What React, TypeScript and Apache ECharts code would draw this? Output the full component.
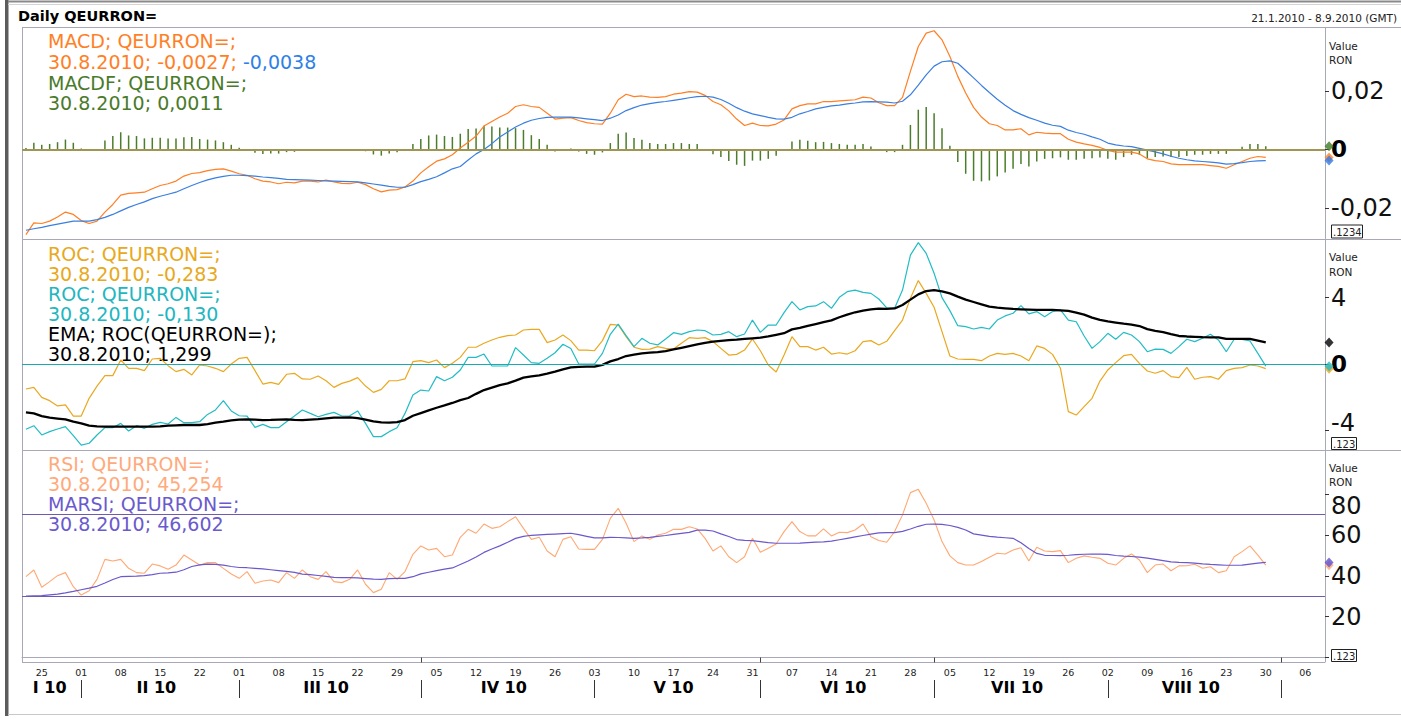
import React, { useEffect, useRef } from "react";
import * as echarts from "echarts";

const START_DATE = "2010-01-21";
const END_DATE = "2010-09-08";
const dates: string[] = [];
{
  const d = new Date(START_DATE + "T00:00:00Z");
  const end = new Date(END_DATE + "T00:00:00Z");
  while (d <= end) {
    const w = d.getUTCDay();
    if (w !== 0 && w !== 6) dates.push(d.toISOString().slice(0, 10));
    d.setUTCDate(d.getUTCDate() + 1);
  }
}

const macd = [
  -0.0291, -0.0251, -0.0253, -0.0245, -0.0231, -0.0214, -0.0222, -0.0243, -0.0253, -0.0245,
  -0.0214, -0.0188, -0.0156, -0.015, -0.0148, -0.0146, -0.0134, -0.0123, -0.0117, -0.0108,
  -0.0091, -0.0082, -0.0079, -0.0072, -0.0068, -0.0066, -0.0074, -0.0083, -0.0088, -0.01,
  -0.0108, -0.0111, -0.0117, -0.0112, -0.0114, -0.0108, -0.0108, -0.0111, -0.0105, -0.0111,
  -0.0116, -0.0117, -0.0112, -0.012, -0.0134, -0.0145, -0.0139, -0.0137, -0.0128, -0.0108,
  -0.008, -0.0059, -0.004, -0.0032, -0.0018, 0.0005, 0.0025, 0.0046, 0.008, 0.0096,
  0.0111, 0.0124, 0.0147, 0.0153, 0.0147, 0.0144, 0.0124, 0.0104, 0.0107, 0.0109,
  0.0099, 0.0092, 0.0088, 0.0087, 0.0124, 0.017, 0.0189, 0.0181, 0.0183, 0.0179,
  0.0178, 0.0181, 0.0189, 0.0193, 0.0198, 0.0196, 0.0185, 0.0164, 0.0153, 0.0132,
  0.0104, 0.0082, 0.009, 0.0082, 0.0081, 0.0087, 0.0101, 0.0139, 0.015, 0.0156,
  0.0156, 0.0164, 0.0164, 0.0166, 0.0168, 0.017, 0.0179, 0.0176, 0.016, 0.015,
  0.015, 0.0178, 0.0267, 0.0352, 0.0398, 0.0406, 0.0375, 0.0318, 0.025, 0.0193,
  0.0144, 0.0111, 0.0088, 0.0082, 0.0067, 0.0067, 0.0071, 0.005, 0.0059, 0.0056,
  0.0054, 0.0054, 0.0035, 0.0025, 0.0019, 0.0014, 0.0007, -0.0003, -0.0009, -0.0009,
  -0.0009, -0.0015, -0.0032, -0.0038, -0.0041, -0.0049, -0.0052, -0.0052, -0.0052, -0.0052,
  -0.0055, -0.0058, -0.0064, -0.0052, -0.0041, -0.003, -0.0024, -0.0027,
];

const macdSignal = [
  -0.0276, -0.0271, -0.0266, -0.026, -0.0255, -0.025, -0.0245, -0.0245, -0.0245, -0.024,
  -0.0232, -0.0222, -0.021, -0.0198, -0.0188, -0.0179, -0.0168, -0.016, -0.0153, -0.0146,
  -0.0134, -0.0123, -0.0113, -0.0104, -0.0097, -0.0092, -0.0088, -0.0088, -0.0089, -0.0091,
  -0.0094, -0.0096, -0.0099, -0.0102, -0.0103, -0.0104, -0.0105, -0.0106, -0.0107, -0.0108,
  -0.0109, -0.011, -0.0111, -0.0114, -0.0118, -0.0122, -0.0126, -0.0129, -0.0129, -0.012,
  -0.011, -0.0102, -0.0093, -0.008, -0.0066, -0.0058, -0.0036, -0.0015, 0.0, 0.002,
  0.0043, 0.006, 0.0077, 0.009, 0.01, 0.0106, 0.011, 0.0111, 0.0111, 0.0111,
  0.0108, 0.0105, 0.0102, 0.0099, 0.0107, 0.0118, 0.0133, 0.0143, 0.0152, 0.0157,
  0.0161, 0.0164, 0.0168, 0.0172, 0.0177, 0.0181, 0.0182, 0.0179, 0.0171, 0.0158,
  0.0143, 0.0131, 0.0122, 0.0116, 0.011, 0.0105, 0.0104, 0.011, 0.0122, 0.013,
  0.0139, 0.0144, 0.0149, 0.0152, 0.0156, 0.0159, 0.0163, 0.0164, 0.0163, 0.0162,
  0.0159, 0.0165, 0.0187, 0.022, 0.0255, 0.0285, 0.03, 0.0303, 0.0295, 0.027,
  0.0245, 0.0219, 0.0195, 0.0172, 0.0151, 0.0133, 0.012, 0.0109, 0.01, 0.009,
  0.0083, 0.0079, 0.0066, 0.0058, 0.0052, 0.0043, 0.0035, 0.0022, 0.0016, 0.0012,
  0.001, 0.0004, -0.0002, -0.0008, -0.0015, -0.0023, -0.003, -0.0035, -0.0039, -0.0041,
  -0.0043, -0.0046, -0.005, -0.0048, -0.0045, -0.0041, -0.0039, -0.0038,
];

const macdf = [
  0.0005, 0.0023, 0.0016, 0.0019, 0.0025, 0.0034, 0.0023, 0.0003, -0.0003, 0.0002,
  0.0031, 0.0046, 0.0059, 0.0048, 0.0046, 0.0038, 0.004, 0.004, 0.0038, 0.0038,
  0.0042, 0.0043, 0.0036, 0.0034, 0.0031, 0.0025, 0.0016, 0.0006, 0.0001, -0.0011,
  -0.0015, -0.0014, -0.0014, -0.0009, -0.0008, -0.0002, -0.0002, -0.0002, -0.0001, -0.0003,
  -0.0002, -0.0005, 0.0, -0.0006, -0.0017, -0.0021, -0.0014, -0.0009, 0.0, 0.0019,
  0.0036, 0.0048, 0.0051, 0.0046, 0.0043, 0.0054, 0.007, 0.0072, 0.0081, 0.0079,
  0.0075, 0.0075, 0.0073, 0.0067, 0.0049, 0.0036, 0.0016, -0.0007, -0.0005, 0.0003,
  -0.0007, -0.0015, -0.0018, -0.001, 0.0022, 0.0054, 0.0058, 0.0039, 0.0033, 0.0022,
  0.0019, 0.0019, 0.0022, 0.0022, 0.0019, 0.0019, 0.0002, -0.0016, -0.0026, -0.0039,
  -0.0052, -0.0056, -0.0038, -0.0038, -0.0032, -0.0021, 0.0, 0.0027, 0.0033, 0.003,
  0.0025, 0.0026, 0.0022, 0.0019, 0.0016, 0.0016, 0.0019, 0.001, 0.0001, -0.0009,
  -0.0009, 0.0016, 0.0084, 0.0136, 0.0145, 0.0124, 0.0073, 0.0013, -0.0043, -0.0083,
  -0.0107, -0.0109, -0.0106, -0.0092, -0.0079, -0.0066, -0.005, -0.0058, -0.0041, -0.0032,
  -0.003, -0.0027, -0.0035, -0.0035, -0.0032, -0.003, -0.0027, -0.0032, -0.0035, -0.0026,
  -0.0018, -0.0018, -0.003, -0.0026, -0.0024, -0.0026, -0.0026, -0.0022, -0.0018, -0.0018,
  -0.0015, -0.0015, -0.0015, -0.0003, 0.0009, 0.0019, 0.0019, 0.0011,
];

const rocA = [
  -1.51, -1.41, -2.01, -2.21, -2.53, -2.47, -3.14, -3.14, -2.07, -1.33,
  -0.7, -0.7, 0.24, -0.26, -0.26, -0.4, 0.3, 0.34, -0.1, -0.46,
  -0.32, -0.66, -0.06, -0.12, -0.26, -0.46, 0.0, 0.34, 0.4, -0.4,
  -1.21, -1.11, -1.23, -0.62, -0.56, -0.9, -0.92, -0.72, -1.01, -1.41,
  -1.17, -1.03, -0.82, -1.33, -1.71, -1.53, -1.01, -1.01, -0.9, 0.14,
  0.2, 0.08, 0.24, -0.22, 0.04, 0.4, 1.01, 1.01, 1.25, 1.45,
  1.61, 1.71, 1.75, 2.05, 2.09, 2.09, 1.29, 1.45, 1.75, 1.41,
  0.84, 0.84, 0.8, 1.41, 2.39, 2.35, 1.65, 1.01, 0.88, 0.9,
  1.05, 0.94, 0.9, 1.25, 1.59, 1.55, 1.59, 1.35, 0.94, 0.54,
  0.58, 0.84, 1.51, 0.8, -0.06, -0.48, 0.54, 1.65, 1.05, 1.05,
  0.84, 1.01, 0.6, 0.68, 0.6, 0.8, 1.35, 1.41, 1.15, 1.37,
  2.01, 2.65, 3.96, 5.03, 4.26, 3.42, 1.95, 0.48, 0.3, 0.28,
  0.28, 0.2, 0.48, 0.64, 0.58, 0.64, 0.48, 0.2, 1.09, 0.94,
  0.58, -0.26, -2.87, -3.08, -2.57, -2.07, -1.03, -0.36, 0.08, 0.5,
  0.58, 0.04, -0.42, -0.56, -0.4, -0.76, -0.82, -0.2, -0.92, -0.8,
  -0.76, -0.92, -0.4, -0.26, -0.22, -0.06, -0.12, -0.28,
];

const rocB = [
  -3.94, -3.72, -4.28, -4.08, -3.92, -3.78, -4.32, -4.89, -4.78, -4.28,
  -3.84, -3.84, -3.58, -4.04, -3.72, -3.88, -3.64, -3.52, -3.62, -3.22,
  -3.54, -3.54, -3.48, -3.04, -2.77, -2.21, -2.83, -3.12, -3.14, -3.82,
  -3.64, -3.84, -3.84, -3.48, -3.14, -2.77, -2.98, -3.18, -3.04, -2.92,
  -3.14, -3.12, -2.83, -3.58, -4.38, -4.38, -4.08, -3.84, -2.98, -1.87,
  -1.57, -1.63, -0.76, -1.01, -0.8, -0.36, 0.4, 0.4, 0.6, -0.12,
  -0.12, -0.12, 0.99, 0.54, 0.08, 0.04, 0.34, 0.68, 1.19, 0.94,
  0.0, 0.0, 0.0, 0.64, 1.79, 2.41, 1.71, 1.05, 1.55, 1.25,
  1.15, 1.51, 1.89, 1.79, 1.95, 2.05, 2.01, 1.75, 1.79, 1.95,
  1.65, 1.81, 2.65, 1.91, 2.35, 2.35, 3.1, 3.76, 3.26, 3.46,
  3.5, 3.76, 3.36, 4.02, 4.36, 4.46, 4.32, 4.26, 3.92, 3.38,
  3.36, 4.46, 6.57, 7.32, 6.67, 5.47, 4.0, 3.22, 2.31, 2.25,
  2.11, 2.21, 2.11, 2.65, 2.9, 3.06, 3.52, 3.02, 3.16, 2.85,
  3.16, 3.26, 2.65, 2.55, 1.69, 0.94, 1.35, 1.85, 1.49, 1.91,
  1.75, 1.35, 0.74, 0.9, 0.88, 0.64, 1.05, 1.49, 1.35, 1.55,
  1.79, 1.45, 0.74, 1.49, 1.49, 1.39, 0.64, -0.13,
];

const rocEma = [
  -2.92, -2.98, -3.14, -3.24, -3.29, -3.34, -3.48, -3.58, -3.72, -3.76,
  -3.78, -3.78, -3.78, -3.78, -3.78, -3.78, -3.78, -3.76, -3.72, -3.7,
  -3.68, -3.68, -3.68, -3.62, -3.54, -3.48, -3.4, -3.36, -3.34, -3.35,
  -3.38, -3.37, -3.35, -3.34, -3.37, -3.38, -3.35, -3.32, -3.28, -3.24,
  -3.23, -3.22, -3.26, -3.35, -3.46, -3.52, -3.54, -3.5, -3.38, -3.12,
  -2.96, -2.8, -2.64, -2.5, -2.35, -2.18, -2.05, -1.8, -1.57, -1.42,
  -1.27, -1.17, -1.0, -0.82, -0.74, -0.68, -0.58, -0.46, -0.32, -0.2,
  -0.17, -0.16, -0.16, -0.05, 0.16, 0.3, 0.48, 0.56, 0.64, 0.68,
  0.72, 0.78, 0.88, 0.98, 1.08, 1.18, 1.28, 1.35, 1.4, 1.44,
  1.47, 1.51, 1.55, 1.59, 1.66, 1.76, 1.86, 2.09, 2.18, 2.3,
  2.41, 2.52, 2.63, 2.82, 2.98, 3.12, 3.22, 3.3, 3.34, 3.33,
  3.35, 3.56, 3.88, 4.2, 4.4, 4.46, 4.38, 4.26, 4.06, 3.88,
  3.74, 3.6, 3.46, 3.4, 3.36, 3.32, 3.3, 3.28, 3.26, 3.26,
  3.26, 3.24, 3.2, 3.1, 2.98, 2.8, 2.66, 2.57, 2.5, 2.43,
  2.38, 2.29, 2.1, 2.0, 1.92, 1.8, 1.69, 1.66, 1.64, 1.62,
  1.61, 1.61, 1.51, 1.51, 1.51, 1.51, 1.41, 1.3,
];

const rsi = [
  39.6, 42.9, 34.4, 37.2, 40.1, 41.6, 34.7, 30.6, 32.7, 38.3,
  48.1, 47.3, 48.1, 43.7, 41.6, 41.3, 45.8, 44.9, 43.2, 45.3,
  50.2, 47.8, 45.3, 46.5, 46.5, 43.7, 40.9, 38.8, 42.1, 36.4,
  37.5, 38.0, 36.7, 41.6, 38.8, 42.9, 39.6, 38.3, 42.1, 37.2,
  36.7, 38.3, 42.9, 35.9, 31.8, 33.4, 41.6, 38.3, 42.1, 50.6,
  54.7, 52.7, 53.5, 49.4, 50.2, 58.9, 62.8, 60.9, 65.4, 63.3,
  64.1, 66.6, 69.0, 63.3, 57.9, 58.9, 52.2, 49.4, 57.9, 59.2,
  53.2, 53.0, 53.0, 57.9, 68.2, 73.1, 65.8, 56.8, 59.6, 57.9,
  60.0, 60.9, 62.8, 62.8, 64.1, 63.0, 58.4, 52.2, 54.7, 49.4,
  46.5, 49.4, 58.4, 51.6, 53.5, 55.6, 61.7, 66.6, 61.7, 59.6,
  59.6, 63.0, 59.6, 61.4, 61.2, 62.5, 65.4, 59.2, 57.3, 56.5,
  61.7, 69.9, 80.8, 82.4, 75.6, 67.4, 56.8, 49.8, 46.5, 45.3,
  45.3, 47.0, 49.1, 51.1, 50.7, 52.7, 53.8, 47.3, 54.0, 52.2,
  51.9, 52.4, 46.5, 48.6, 49.8, 49.1, 48.6, 46.2, 45.3, 48.6,
  50.7, 47.8, 41.6, 45.3, 45.8, 42.5, 44.9, 45.0, 45.7, 43.7,
  44.5, 41.6, 42.5, 49.4, 51.9, 54.7, 50.2, 45.25,
];

const marsi = [
  30.1, 30.2, 30.3, 30.7, 31.1, 31.7, 32.4, 33.2, 34.0, 34.9,
  36.5, 38.2, 39.6, 39.8, 39.9, 40.1, 40.6, 41.3, 41.5, 41.8,
  43.0, 44.6, 45.4, 45.8, 45.6, 45.3, 44.6, 44.1, 44.0, 43.7,
  43.4, 43.0, 42.6, 42.2, 41.7, 40.9, 40.6, 40.2, 39.8, 39.3,
  39.1, 39.1, 39.0, 38.7, 38.4, 38.3, 38.7, 38.8, 38.8, 39.6,
  41.0, 41.8, 42.6, 43.3, 43.9, 45.6, 47.3, 49.3, 51.5, 53.2,
  54.7, 56.5, 58.4, 59.4, 59.9, 60.1, 60.3, 60.5, 60.7, 60.9,
  60.2, 59.4, 58.6, 58.6, 58.9, 58.8, 58.6, 58.4, 58.6, 58.9,
  59.4, 59.8, 60.3, 60.8, 61.3, 62.4, 62.4, 62.0, 60.6, 59.3,
  57.8, 57.4, 57.3, 56.8, 56.3, 56.0, 56.0, 56.0, 56.1, 56.3,
  56.5, 56.7, 57.0, 57.7, 58.4, 59.1, 59.8, 60.5, 61.1, 61.2,
  61.2, 61.8, 63.0, 64.3, 65.3, 65.4, 65.2, 64.7, 63.8, 62.5,
  60.6, 60.0, 59.4, 59.0, 58.7, 58.4, 56.2, 53.4, 51.0, 50.1,
  50.0, 49.9, 50.1, 50.4, 50.6, 50.7, 50.7, 50.5, 50.0, 49.7,
  49.5, 49.2, 48.7, 48.1, 47.5, 46.9, 46.6, 46.5, 46.3, 45.9,
  45.6, 45.4, 45.2, 45.2, 45.3, 45.8, 46.3, 46.6,
];

const macdTicks = [-0.02, 0, 0.02];
const rocTicks = [-4, 0, 4];
const rsiTicks = [20, 40, 60, 80];
const rsiTickMarks = [0, 20, 40, 60, 80];
const rsiLevels = [70, 30];
const romanMonths = ["I", "II", "III", "IV", "V", "VI", "VII", "VIII", "IX", "X", "XI", "XII"];

const FONT = "DejaVu Sans";

// month structure derived from the category dates
const monthStarts: number[] = [];
const monthMid = new Map<number, { label: string; half: boolean }>();
{
  let s = 0;
  for (let i = 1; i <= dates.length; i++) {
    if (i === dates.length || dates[i].slice(5, 7) !== dates[i - 1].slice(5, 7)) {
      const e = i - 1;
      const len = e - s + 1;
      if (len >= 7) {
        const mid = Math.floor((s + e) / 2);
        const m = parseInt(dates[s].slice(5, 7), 10) - 1;
        monthMid.set(mid, { label: romanMonths[m] + " " + dates[s].slice(2, 4), half: len % 2 === 0 });
      }
      if (i < dates.length) monthStarts.push(i);
      s = i;
    }
  }
}
const monthStartSet = new Set(monthStarts);
const isMonday = (v: string) => new Date(v + "T00:00:00Z").getUTCDay() === 1;
const nonMondayMonthStarts = new Set(monthStarts.filter((i) => !isMonday(dates[i])));
const LAST = dates.length - 1;

function fmtComma(v: number, digits: number) {
  return v.toFixed(digits).replace(".", ",");
}

export default function App() {
  const ref = useRef<HTMLDivElement>(null);
  useEffect(() => {
    document.body.style.margin = "0";
    const chart = echarts.init(ref.current!, null, { renderer: "svg" });
    const axisGray = "#a8a8b8";
    const grids = [
      { left: 22, right: 76, top: 27.5, height: 211 },
      { left: 22, right: 76, top: 239.5, height: 210.5 },
      { left: 22, right: 76, top: 451, height: 211 },
    ];
    const hiddenX = (g: number) => ({
      type: "category",
      gridIndex: g,
      data: dates,
      boundaryGap: true,
      axisLine: { show: false },
      axisTick: { show: false },
      axisLabel: { show: false },
      splitLine: { show: false },
    });
    const yBase = (g: number, min: number, max: number, ticks: number[], labels: number[], fmt: (v: number) => string) => ({
      type: "value",
      gridIndex: g,
      position: "right",
      min,
      max,
      splitLine: { show: false },
      axisLine: { show: true, lineStyle: { color: axisGray, width: 1 } },
      axisTick: { show: true, customValues: ticks, length: 4, lineStyle: { color: "#333" } },
      axisLabel: {
        customValues: labels,
        formatter: fmt,
        margin: 6,
        fontFamily: FONT,
        fontSize: 24,
        color: "#111",
        align: "left",
        rich: {
          b: { fontFamily: FONT, fontSize: 23, fontWeight: "bold", color: "#000" },
          dn: { fontFamily: FONT, fontSize: 24, color: "#111", padding: [24, 0, 0, 0] },
          up: { fontFamily: FONT, fontSize: 24, color: "#111", padding: [0, 0, 14, 0] },
        },
      },
    });
    const diamond = (x: number, y: number, val: number, color: string, z: number) => ({
      type: "scatter",
      xAxisIndex: x,
      yAxisIndex: y,
      data: [[LAST, val]],
      symbol: "diamond",
      symbolSize: [9, 10],
      symbolOffset: [8, 0],
      itemStyle: { color },
      clip: false,
      silent: true,
      z,
    });
    const lineS = (x: number, y: number, data: number[], color: string, width: number, extra: any = {}) => ({
      type: "line",
      xAxisIndex: x,
      yAxisIndex: y,
      data,
      showSymbol: false,
      symbol: "none",
      lineStyle: { color, width },
      itemStyle: { color },
      silent: true,
      ...extra,
    });
    const legend = (y: number, text: string, fill: string) => ({
      type: "text",
      x: 48,
      y,
      silent: true,
      style: { text, fill, font: `19px "${FONT}"`, textVerticalAlign: "middle", textAlign: "left" },
    });
    const small = (x: number, y: number, text: string, align = "left") => ({
      type: "text",
      x,
      y,
      silent: true,
      style: { text, fill: "#222", font: `10.5px "${FONT}"`, textVerticalAlign: "middle", textAlign: align },
    });
    const box = (x: number, y: number, w: number, h: number, text: string) => [
      { type: "rect", silent: true, shape: { x: x + 0.5, y: y + 0.5, width: w, height: h }, style: { fill: "#fff", stroke: "#222", lineWidth: 1 } },
      { type: "text", silent: true, x: x + 2, y: y + h / 2 + 1, style: { text, fill: "#222", font: `10px "${FONT}"`, textVerticalAlign: "middle" } },
    ];
    const hline = (x1: number, x2: number, y: number, stroke: string, w = 1) => ({
      type: "line",
      silent: true,
      shape: { x1, y1: y, x2, y2: y },
      style: { stroke, lineWidth: w },
    });

    const option: any = {
      animation: false,
      backgroundColor: "#ffffff",
      grid: grids,
      xAxis: [
        hiddenX(0),
        hiddenX(1),
        {
          type: "category",
          gridIndex: 2,
          data: dates,
          boundaryGap: true,
          axisLine: { show: true, lineStyle: { color: axisGray } },
          axisTick: {
            show: true,
            alignWithLabel: true,
            interval: (i: number) => nonMondayMonthStarts.has(i),
            length: 5,
            lineStyle: { color: "#444" },
          },
          axisLabel: {
            interval: (_i: number, v: string) => isMonday(v),
            formatter: (v: string) => v.slice(8, 10),
            fontFamily: FONT,
            fontSize: 9.5,
            color: "#222",
            margin: 5,
          },
          splitLine: { show: false },
        },
        {
          type: "category",
          gridIndex: 2,
          data: dates,
          boundaryGap: true,
          position: "bottom",
          offset: 18,
          axisLine: { show: false },
          axisTick: {
            show: true,
            alignWithLabel: true,
            interval: (i: number) => monthStartSet.has(i),
            length: 18,
            lineStyle: { color: "#333", width: 1 },
          },
          axisLabel: {
            interval: (i: number) => monthMid.has(i),
            formatter: (_v: string, i: number) => {
              const m = monthMid.get(i);
              if (!m) return "";
              return m.half ? `{h|${m.label}}` : `{n|${m.label}}`;
            },
            margin: -1,
            rich: {
              n: { fontFamily: FONT, fontSize: 16, fontWeight: "bold", color: "#000" },
              h: { fontFamily: FONT, fontSize: 16, fontWeight: "bold", color: "#000", padding: [0, 0, 0, 8] },
            },
          },
          splitLine: { show: false },
        },
      ],
      yAxis: [
        yBase(0, -0.03043, 0.04171, macdTicks, macdTicks, (v: number) => (v === 0 ? "{b|0}" : fmtComma(v, 2))),
        yBase(1, -5.187, 7.509, rocTicks, rocTicks, (v: number) => (v === 0 ? "{b|0}" : v < 0 ? `{up|${v}}` : String(v))),
        yBase(2, -2.2, 101.2, rsiTickMarks, rsiTicks, (v: number) => (v === 80 ? `{dn|${v}}` : String(v))),
      ],
      series: [
        {
          type: "bar",
          xAxisIndex: 0,
          yAxisIndex: 0,
          data: macdf,
          barWidth: 1.5,
          itemStyle: { color: "#4c7d2c" },
          silent: true,
          markLine: {
            silent: true,
            symbol: ["none", "none"],
            label: { show: false },
            lineStyle: { color: "#9e9652", width: 2, type: "solid" },
            data: [{ yAxis: 0 }],
          },
        },
        lineS(0, 0, macd, "#ff7f24", 1.2),
        lineS(0, 0, macdSignal, "#3a7fe0", 1.2),
        diamond(0, 0, macdf[macdf.length - 1], "#3f7a24", 10),
        diamond(0, 0, macd[macd.length - 1], "#ff7f24", 11),
        diamond(0, 0, macdSignal[macdSignal.length - 1], "#2f78e6", 12),

        lineS(1, 1, rocA, "#eaa820", 1.2, {
          markLine: {
            silent: true,
            symbol: ["none", "none"],
            label: { show: false },
            lineStyle: { color: "#19abb0", width: 1.2, type: "solid" },
            data: [{ yAxis: 0 }],
          },
        }),
        lineS(1, 1, rocB, "#22bcc4", 1.2),
        lineS(1, 1, rocEma, "#000000", 2.3),
        diamond(1, 1, rocEma[rocEma.length - 1], "#000000", 10),
        diamond(1, 1, rocA[rocA.length - 1], "#eaa820", 11),
        diamond(1, 1, rocB[rocB.length - 1], "#22bcc4", 12),

        lineS(2, 2, rsi, "#ffa873", 1.1),
        lineS(2, 2, marsi, "#6a58cc", 1.2, {
          markLine: {
            silent: true,
            symbol: ["none", "none"],
            label: { show: false },
            lineStyle: { color: "#6e5ab0", width: 1.2, type: "solid" },
            data: rsiLevels.map((v) => ({ yAxis: v })),
          },
        }),
        diamond(2, 2, rsi[rsi.length - 1], "#ffa873", 10),
        diamond(2, 2, marsi[marsi.length - 1], "#5f50d0", 11),
      ],
      graphic: [
        { type: "rect", silent: true, shape: { x: 5, y: 0, width: 3.5, height: 716 }, style: { fill: "#5c5c5c" } },
        hline(8, 1401, 1.5, "#8a8a8a", 2),
        hline(8, 1401, 4.5, "#d4d4d4", 1),
        hline(8, 1401, 714.5, "#c8c8c8", 1),
        hline(22, 1401, 27.5, axisGray),
        hline(22, 1401, 239.5, axisGray),
        hline(22, 1401, 450.5, axisGray),
        hline(22, 1325, 662.5, axisGray),
        { type: "line", silent: true, shape: { x1: 22.5, y1: 27.5, x2: 22.5, y2: 662.5 }, style: { stroke: axisGray, lineWidth: 1 } },
        {
          type: "text",
          x: 18,
          y: 15.5,
          silent: true,
          style: { text: "Daily QEURRON=", fill: "#000", font: `bold 14.5px "${FONT}"`, textVerticalAlign: "middle" },
        },
        small(1397, 17.5, "21.1.2010 - 8.9.2010 (GMT)", "right"),
        legend(40.5, "MACD; QEURRON=;", "#ff7f27"),
        {
          type: "text",
          x: 48,
          y: 61.5,
          silent: true,
          style: {
            text: "{o|30.8.2010; -0,0027; }{b|-0,0038}",
            font: `19px "${FONT}"`,
            textVerticalAlign: "middle",
            rich: {
              o: { fill: "#ff7f27", fontFamily: FONT, fontSize: 19 },
              b: { fill: "#2f7fe8", fontFamily: FONT, fontSize: 19 },
            },
          },
        },
        legend(82.5, "MACDF; QEURRON=;", "#4a7a2a"),
        legend(102.5, "30.8.2010; 0,0011", "#4a7a2a"),
        legend(254, "ROC; QEURRON=;", "#e8a820"),
        legend(274, "30.8.2010; -0,283", "#e8a820"),
        legend(294, "ROC; QEURRON=;", "#22b6c0"),
        legend(314, "30.8.2010; -0,130", "#22b6c0"),
        legend(334, "EMA; ROC(QEURRON=);", "#000000"),
        legend(354, "30.8.2010; 1,299", "#000000"),
        legend(464, "RSI; QEURRON=;", "#ffaa7c"),
        legend(484, "30.8.2010; 45,254", "#ffaa7c"),
        legend(503.5, "MARSI; QEURRON=;", "#6a5acd"),
        legend(524, "30.8.2010; 46,602", "#6a5acd"),
        small(1329, 45.5, "Value"),
        small(1329, 60, "RON"),
        small(1329, 256.5, "Value"),
        small(1329, 271.5, "RON"),
        small(1329, 467.5, "Value"),
        small(1329, 482, "RON"),
        ...box(1331, 224.5, 31, 13, ".1234"),
        ...box(1331, 437, 25, 12, ".123"),
        ...box(1331, 649, 25, 12, ".123"),
      ],
    };
    chart.setOption(option);
    return () => chart.dispose();
  }, []);
  return <div ref={ref} style={{ position: "fixed", left: 0, top: 0, width: 1401, height: 719 }} />;
}
